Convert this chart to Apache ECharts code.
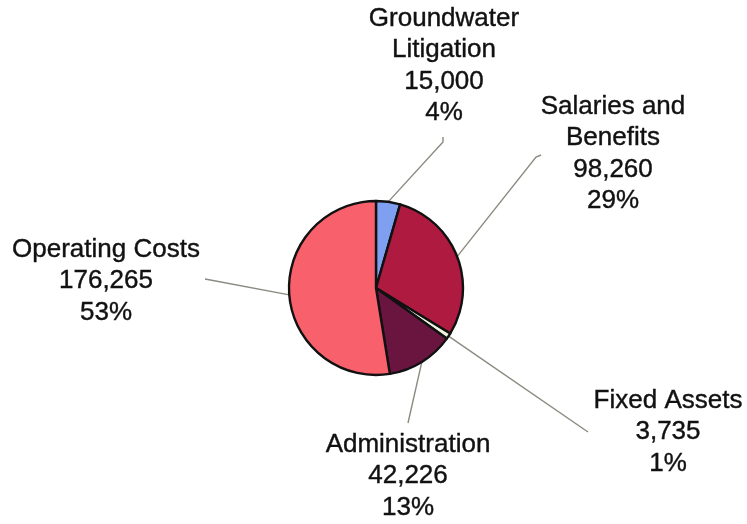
<!DOCTYPE html>
<html>
<head>
<meta charset="utf-8">
<script src="https://cdn.jsdelivr.net/npm/echarts@6/dist/echarts.min.js"></script>
<style>
  html, body { margin: 0; padding: 0; background: #ffffff; }
  #chart { width: 747px; height: 524px; }
</style>
</head>
<body>
<div id="chart"></div>
<script>
// Budget categories and amounts
const categories = [
  'Groundwater\nLitigation',
  'Salaries and\nBenefits',
  'Fixed Assets',
  'Administration',
  'Operating Costs'
];
const amounts = [15000, 98260, 3735, 42226, 176265];
const sliceColors = ['#7f9ff0', '#ae1a40', '#eef3de', '#6a1440', '#f8606c'];

// Where each label block sits, and where its leader line ends
const labelPlacement = {
  'Groundwater\nLitigation': { x: 444, y: 66,  end: [[443, 142], [443, 137]] },
  'Salaries and\nBenefits':  { x: 613, y: 154, end: [[536, 157], [541, 155]] },
  'Fixed Assets':            { x: 668, y: 432, end: [[588, 432], [588, 432]] },
  'Administration':          { x: 408, y: 476, end: [[408, 423], [408, 423]] },
  'Operating Costs':         { x: 106, y: 281, end: [[205, 279], [205, 279]] }
};

const chart = echarts.init(document.getElementById('chart'), null, { renderer: 'canvas' });

chart.setOption({
  animation: false,
  backgroundColor: '#ffffff',
  series: [{
    type: 'pie',
    center: [376, 288],
    radius: 87,
    startAngle: 90,
    clockwise: true,
    avoidLabelOverlap: false,
    data: categories.map((name, i) => ({
      name: name,
      value: amounts[i],
      itemStyle: { color: sliceColors[i] }
    })),
    itemStyle: { borderColor: '#111111', borderWidth: 2.4 },
    emphasis: { disabled: true },
    label: {
      show: true,
      position: 'outside',
      color: '#111111',
      textBorderColor: '#111111',
      textBorderWidth: 0.4,
      fontFamily: 'Liberation Sans, Arial, sans-serif',
      fontSize: 26,
      lineHeight: 31.5,
      align: 'center',
      formatter: p => p.name + '\n' + p.value.toLocaleString('en-US') + '\n' + Math.round(p.percent) + '%'
    },
    labelLine: {
      show: true,
      length: 20,
      length2: 20,
      lineStyle: { color: '#8a8a80', width: 1.4 }
    },
    labelLayout: function (params) {
      const place = labelPlacement[categories[params.dataIndex]];
      if (!place) return {};
      const start = params.labelLinePoints ? params.labelLinePoints[0] : place.end[0];
      return {
        x: place.x,
        y: place.y,
        align: 'center',
        verticalAlign: 'middle',
        labelLinePoints: [start, place.end[0], place.end[1]]
      };
    }
  }]
});
</script>
</body>
</html>
